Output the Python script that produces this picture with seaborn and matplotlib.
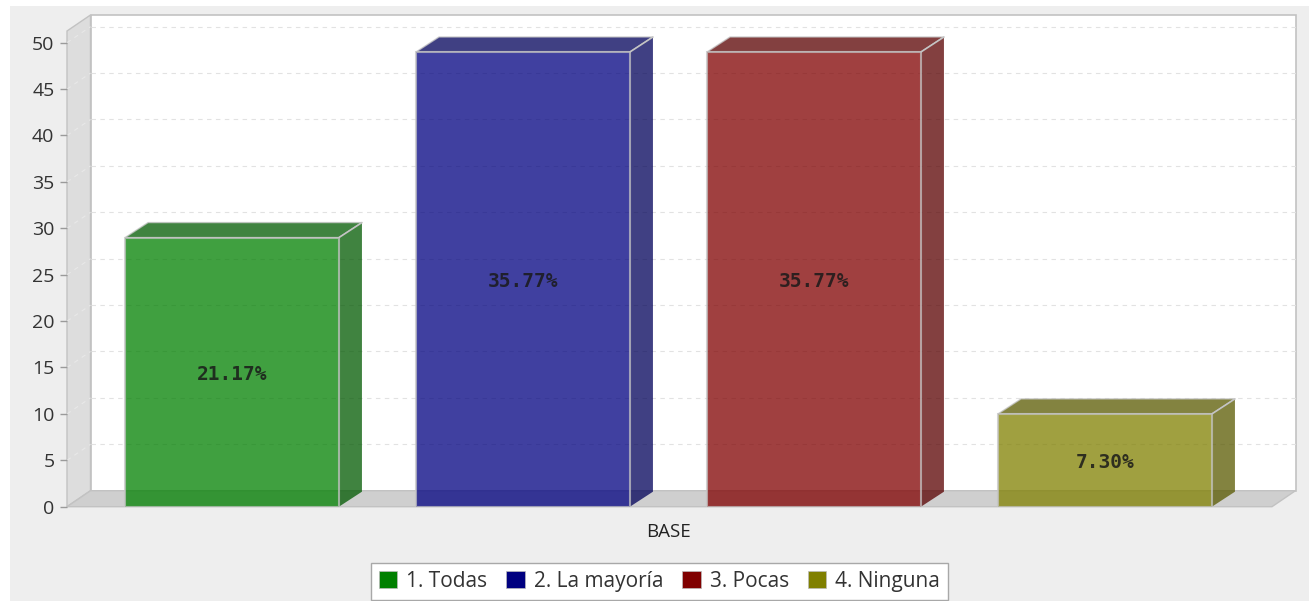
import matplotlib
matplotlib.use('Agg')
import matplotlib.pyplot as plt
from matplotlib.patches import Patch, Polygon, Rectangle
import pandas as pd
import seaborn as sns

categories = ['BASE', 'BASE', 'BASE', 'BASE']
series = ['1. Todas', '2. La mayoría', '3. Pocas', '4. Ninguna']
values = [29, 49, 49, 10]
pct_labels = ['21.17%', '35.77%', '35.77%', '7.30%']
y_ticks = [0, 5, 10, 15, 20, 25, 30, 35, 40, 45, 50]
colors = ['#008000', '#000080', '#800000', '#808000']
dark_colors = ['#005900', '#000059', '#590000', '#595900']

W, H = 1309, 601
sns.set_theme(style='white')
plt.rcParams['font.family'] = ['Open Sans', 'DejaVu Sans']

df = pd.DataFrame({'group': categories, 'answer': series, 'count': values})

fig = plt.figure(figsize=(W / 100, H / 100), dpi=100, facecolor='white')
fig.add_artist(Rectangle((10 / W, 0), 1 - 10 / W, 1 - 6 / H, transform=fig.transFigure,
                         facecolor='#EEEEEE', edgecolor='none', zorder=-1))

# axes = front plane of the fake 3d box
ax = fig.add_axes([67 / W, 1 - 506.7 / H, 1205 / W, 475.7 / H])
ax.patch.set_visible(False)

sns.barplot(data=df, x='group', y='count', hue='answer', hue_order=series, palette=colors,
            saturation=1, alpha=0.75, width=0.8, gap=0.265, edgecolor='#C4C4C4', linewidth=1.5,
            legend=False, zorder=3, ax=ax)

px_x = 1 / 1455
ax.set_xlim((67 - 668.5) * px_x, (1272 - 668.5) * px_x)
ax.set_ylim(0, 475.7 / 9.28)
x0, x1 = ax.get_xlim()
y1 = ax.get_ylim()[1]

# depth of walls and of bars, in data units
wall_dx, wall_dy = 23.5 * px_x, 16 / 9.28
bar_dx, bar_dy = 23 * px_x, 15 / 9.28
wall_edge = '#C2C2C2'

ax.add_patch(Rectangle((x0 + wall_dx, wall_dy), x1 - x0, y1, facecolor='white', edgecolor=wall_edge,
                       linewidth=1.2, clip_on=False, zorder=0.2))
ax.add_patch(Polygon([(x0, 0), (x0, y1), (x0 + wall_dx, y1 + wall_dy), (x0 + wall_dx, wall_dy)],
                     facecolor='#DDDDDD', edgecolor=wall_edge, linewidth=1, clip_on=False, zorder=0.3))
ax.add_patch(Polygon([(x0, 0), (x1, 0), (x1 + wall_dx, wall_dy), (x0 + wall_dx, wall_dy)],
                     facecolor='#CFCFCF', edgecolor=wall_edge, linewidth=1, clip_on=False, zorder=0.4))

for tick in y_ticks[1:]:
    ax.plot([x0 + wall_dx, x1 + wall_dx], [tick + wall_dy, tick + wall_dy], color='#E2E2E2',
            linewidth=0.8, linestyle=(0, (4, 4)), clip_on=False, zorder=0.5)
    ax.plot([x0, x0 + wall_dx], [tick, tick + wall_dy], color='#E8E8E8',
            linewidth=0.8, linestyle=(0, (4, 4)), clip_on=False, zorder=0.5)

for container, label, dark in zip(ax.containers, pct_labels, dark_colors):
    ax.bar_label(container, labels=[label], label_type='center', padding=-1.4, family='DejaVu Sans Mono',
                 fontweight='bold', fontsize=14, color='#1A1A1A', alpha=0.85, zorder=5)
    for bar in container:
        left = bar.get_x()
        right = left + bar.get_width()
        top = bar.get_height()
        ax.add_patch(Polygon([(left, top), (right, top), (right + bar_dx, top + bar_dy), (left + bar_dx, top + bar_dy)],
                             facecolor=dark, alpha=0.75, edgecolor='#C4C4C4', linewidth=1, clip_on=False, zorder=2.9))
        ax.add_patch(Polygon([(right, 0), (right, top), (right + bar_dx, top + bar_dy), (right + bar_dx, bar_dy)],
                             facecolor=dark, alpha=0.75, edgecolor='none', clip_on=False, zorder=2.9))
        ax.plot([right, right + bar_dx], [top, top + bar_dy], color='#C4C4C4', linewidth=1.2, zorder=3, clip_on=False)

sns.despine(ax=ax, left=True, bottom=True, top=True, right=True)
ax.set_yticks(y_ticks)
ax.tick_params(axis='y', left=True, length=5, width=1, color='#9A9A9A', pad=4, labelsize=14, labelcolor='#333333')
ax.tick_params(axis='x', bottom=False, pad=6, labelsize=13.5, labelcolor='#222222')
ax.set_xlabel('')
ax.set_ylabel('')

handles = [Patch(facecolor=c, edgecolor='#BBBBBB', linewidth=0.5, label=s) for c, s in zip(colors, series)]
fig.legend(handles=handles, ncol=4, loc='center', bbox_to_anchor=(659.5 / W, 1 - 581.5 / H),
           frameon=True, fancybox=False, framealpha=1, facecolor='white', edgecolor='#A8A8A8',
           fontsize=15, labelcolor='#333333', handlelength=0.87, handleheight=0.87, handletextpad=0.43,
           columnspacing=0.93, borderpad=0.4, borderaxespad=0)

fig.savefig('out.png', dpi=100, facecolor=fig.get_facecolor())
